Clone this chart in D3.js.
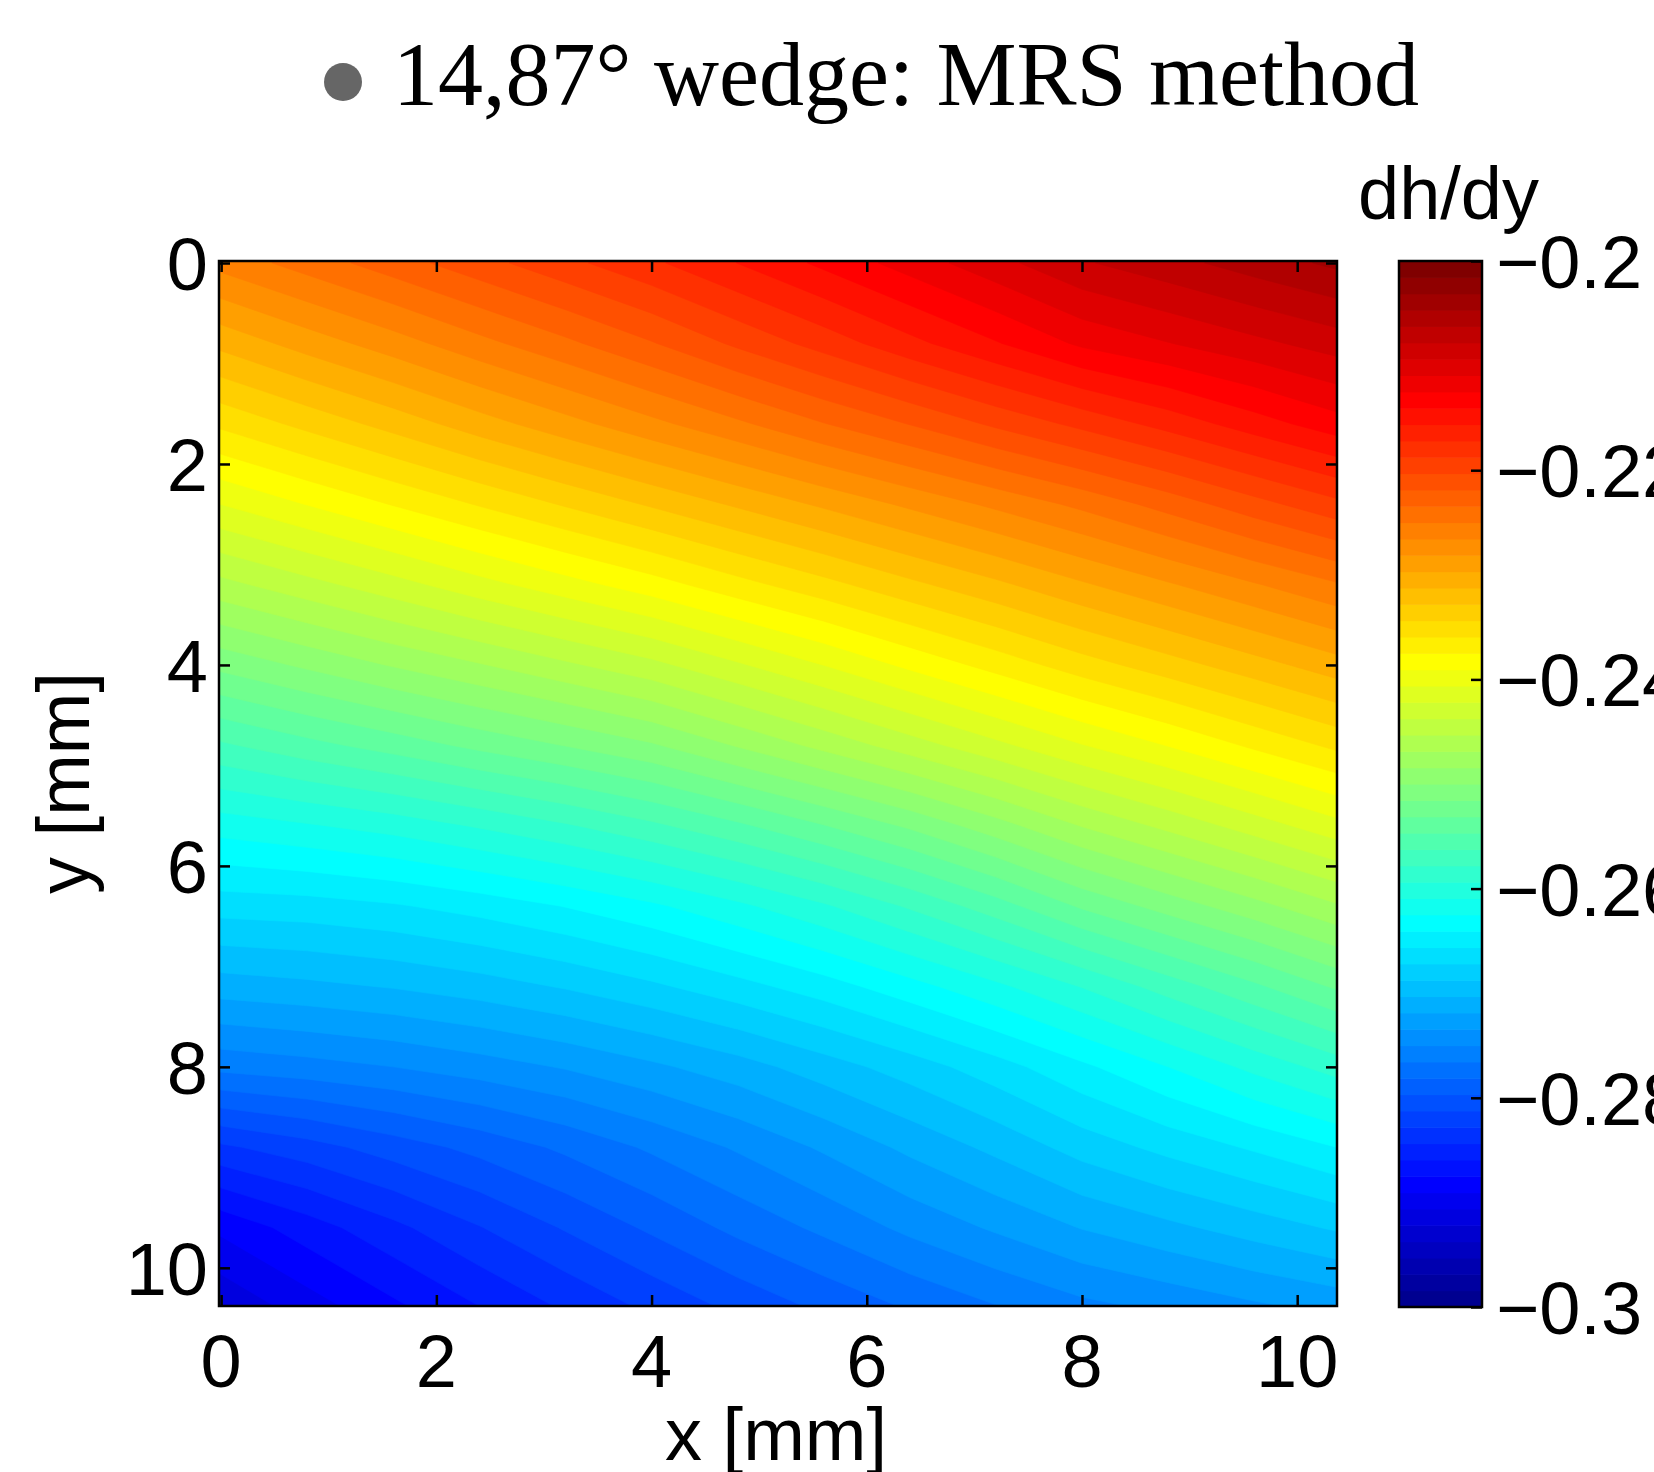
<!DOCTYPE html>
<html>
<head>
<meta charset="utf-8">
<script src="https://cdn.jsdelivr.net/npm/d3@7"></script>
<style>
  html, body { margin: 0; padding: 0; background: #fff; }
  svg { display: block; }
</style>
</head>
<body>
<svg id="chart" width="1654" height="1472"></svg>
<script>
// ---------------- DATA ----------------
const titleText = "14,87\u00b0 wedge: MRS method";
const colorbarLabel = "dh/dy";
const xLabel = "x [mm]";
const yLabel = "y [mm]";

// sample grid positions (mm)
const xNodes = [0, 0.8, 1.6, 2.4, 3.2, 4.0, 4.8, 5.6, 6.4, 7.2, 8.0, 8.8, 9.6, 10.4];
const yNodes = [0, 0.8, 1.6, 2.4, 3.2, 4.0, 4.8, 5.6, 6.4, 7.2, 8.0, 8.8, 9.6, 10.4];

// dh/dy values, one row per y node (top to bottom), one column per x node
const row_y00 = [-0.2260, -0.2243, -0.2226, -0.2209, -0.2192, -0.2175, -0.2156, -0.2137, -0.2118, -0.2099, -0.2080, -0.2068, -0.2055, -0.2043];
const row_y08 = [-0.2308, -0.2290, -0.2273, -0.2255, -0.2238, -0.2220, -0.2200, -0.2181, -0.2161, -0.2142, -0.2122, -0.2110, -0.2098, -0.2086];
const row_y16 = [-0.2356, -0.2339, -0.2322, -0.2304, -0.2287, -0.2270, -0.2253, -0.2235, -0.2218, -0.2200, -0.2183, -0.2166, -0.2148, -0.2131];
const row_y24 = [-0.2406, -0.2390, -0.2374, -0.2358, -0.2342, -0.2326, -0.2310, -0.2294, -0.2278, -0.2262, -0.2246, -0.2228, -0.2209, -0.2191];
const row_y32 = [-0.2458, -0.2443, -0.2428, -0.2412, -0.2397, -0.2382, -0.2365, -0.2349, -0.2332, -0.2316, -0.2299, -0.2283, -0.2267, -0.2251];
const row_y40 = [-0.2511, -0.2497, -0.2483, -0.2470, -0.2456, -0.2442, -0.2424, -0.2406, -0.2387, -0.2369, -0.2351, -0.2335, -0.2319, -0.2303];
const row_y48 = [-0.2565, -0.2552, -0.2540, -0.2527, -0.2515, -0.2502, -0.2483, -0.2464, -0.2445, -0.2426, -0.2407, -0.2390, -0.2372, -0.2355];
const row_y56 = [-0.2618, -0.2611, -0.2603, -0.2592, -0.2580, -0.2566, -0.2550, -0.2532, -0.2513, -0.2491, -0.2468, -0.2449, -0.2430, -0.2411];
const row_y64 = [-0.2665, -0.2663, -0.2658, -0.2650, -0.2640, -0.2628, -0.2613, -0.2596, -0.2576, -0.2554, -0.2529, -0.2509, -0.2490, -0.2470];
const row_y72 = [-0.2711, -0.2707, -0.2702, -0.2695, -0.2686, -0.2675, -0.2662, -0.2648, -0.2631, -0.2613, -0.2593, -0.2571, -0.2550, -0.2528];
const row_y80 = [-0.2761, -0.2756, -0.2750, -0.2742, -0.2733, -0.2722, -0.2710, -0.2695, -0.2680, -0.2663, -0.2644, -0.2625, -0.2605, -0.2586];
const row_y88 = [-0.2831, -0.2819, -0.2805, -0.2792, -0.2778, -0.2763, -0.2748, -0.2732, -0.2715, -0.2699, -0.2681, -0.2667, -0.2654, -0.2640];
const row_y96 = [-0.2887, -0.2867, -0.2848, -0.2829, -0.2811, -0.2794, -0.2777, -0.2762, -0.2746, -0.2732, -0.2718, -0.2707, -0.2696, -0.2685];
const row_y104 = [-0.2920, -0.2899, -0.2879, -0.2860, -0.2842, -0.2825, -0.2809, -0.2794, -0.2780, -0.2767, -0.2755, -0.2747, -0.2738, -0.2730];
const dhdyRows = [row_y00, row_y08, row_y16, row_y24, row_y32, row_y40, row_y48,
                  row_y56, row_y64, row_y72, row_y80, row_y88, row_y96, row_y104];

const xTicks = [0, 2, 4, 6, 8, 10];
const yTicks = [0, 2, 4, 6, 8, 10];
const cbTicks = [-0.3, -0.28, -0.26, -0.24, -0.22, -0.2];
const cbTickLabels = ["\u22120.3", "\u22120.28", "\u22120.26", "\u22120.24", "\u22120.22", "\u22120.2"];
const cbDomain = [-0.3, -0.2];
const nColors = 64;

// ---------------- LAYOUT ----------------
const svg = d3.select("#chart");
const plot = { left: 219, right: 1337, top: 261, bottom: 1306 };
const cb = { left: 1399, right: 1482, top: 261, bottom: 1307 };
const FONT = "'Liberation Sans', Arial, Helvetica, sans-serif";
const FS = 74;

const xScale = d3.scaleLinear().domain([-0.02, 10.37]).range([plot.left, plot.right]);
const yScale = d3.scaleLinear().domain([-0.02, 10.38]).range([plot.top, plot.bottom]);
const cbScale = d3.scaleLinear().domain(cbDomain).range([cb.bottom, cb.top]);

// jet colormap
const jet = d3.scaleLinear()
  .domain([0, 0.125, 0.375, 0.625, 0.875, 1])
  .range(["#000080", "#0000ff", "#00ffff", "#ffff00", "#ff0000", "#800000"])
  .interpolate(d3.interpolateRgb)
  .clamp(true);
const step = (cbDomain[1] - cbDomain[0]) / nColors;
const levels = d3.range(nColors).map(k => cbDomain[0] + k * step);
const levelColor = k => jet((k + 1) / nColors);

// ---------------- HEATMAP (filled contour bands) ----------------
const nx = xNodes.length, ny = yNodes.length;
const flat = [];
dhdyRows.forEach(r => r.forEach(v => flat.push(v)));
const dxN = xNodes[1] - xNodes[0], dyN = yNodes[1] - yNodes[0];
const proj = d3.geoTransform({
  point: function (gx, gy) {
    this.stream.point(xScale(xNodes[0] + (gx - 0.5) * dxN), yScale(yNodes[0] + (gy - 0.5) * dyN));
  }
});
const path = d3.geoPath(proj);
const contours = d3.contours().size([nx, ny]).thresholds(levels)(flat);

svg.append("defs").append("clipPath").attr("id", "plotclip")
  .append("rect")
  .attr("x", plot.left).attr("y", plot.top)
  .attr("width", plot.right - plot.left).attr("height", plot.bottom - plot.top);

const g = svg.append("g").attr("clip-path", "url(#plotclip)");
g.selectAll("path.band")
  .data(contours)
  .join("path")
  .attr("class", "band")
  .attr("d", path)
  .attr("fill", (d, i) => levelColor(i))
  .attr("stroke", (d, i) => levelColor(i))
  .attr("stroke-width", 0.6);

// ---------------- AXES (MATLAB style box, inward ticks) ----------------
const TL = 11, SW = 2.5;
const axes = svg.append("g");
const axB = d3.axisBottom(xScale).tickValues(xTicks).tickSize(-TL).tickFormat("");
const axT = d3.axisTop(xScale).tickValues(xTicks).tickSize(-TL).tickFormat("");
const axL = d3.axisLeft(yScale).tickValues(yTicks).tickSize(-TL).tickFormat("");
const axR = d3.axisRight(yScale).tickValues(yTicks).tickSize(-TL).tickFormat("");
axes.append("g").attr("transform", `translate(0,${plot.bottom})`).call(axB);
axes.append("g").attr("transform", `translate(0,${plot.top})`).call(axT);
axes.append("g").attr("transform", `translate(${plot.left},0)`).call(axL);
axes.append("g").attr("transform", `translate(${plot.right},0)`).call(axR);
axes.selectAll(".domain").remove();
axes.selectAll(".tick line").attr("stroke", "#000").attr("stroke-width", SW);
svg.append("rect")
  .attr("x", plot.left).attr("y", plot.top)
  .attr("width", plot.right - plot.left).attr("height", plot.bottom - plot.top)
  .attr("fill", "none").attr("stroke", "#000").attr("stroke-width", SW);

// tick labels
svg.append("g").selectAll("text").data(xTicks).join("text")
  .attr("x", d => xScale(d)).attr("y", 1387)
  .attr("text-anchor", "middle")
  .attr("font-family", FONT).attr("font-size", FS).attr("fill", "#000")
  .text(d => d3.format("d")(d));
svg.append("g").selectAll("text").data(yTicks).join("text")
  .attr("x", 208).attr("y", d => yScale(d) + 27)
  .attr("text-anchor", "end")
  .attr("font-family", FONT).attr("font-size", FS).attr("fill", "#000")
  .text(d => d3.format("d")(d));

// axis labels
svg.append("text")
  .attr("x", 776).attr("y", 1460)
  .attr("text-anchor", "middle")
  .attr("font-family", FONT).attr("font-size", FS).attr("fill", "#000")
  .text(xLabel);
svg.append("text")
  .attr("transform", "translate(89,783) rotate(-90)")
  .attr("text-anchor", "middle")
  .attr("font-family", FONT).attr("font-size", FS).attr("fill", "#000")
  .text(yLabel);

// ---------------- COLORBAR ----------------
const cbg = svg.append("g");
cbg.selectAll("rect.cb").data(levels).join("rect")
  .attr("class", "cb")
  .attr("x", cb.left).attr("width", cb.right - cb.left)
  .attr("y", d => cbScale(d + step))
  .attr("height", d => cbScale(d) - cbScale(d + step) + 0.6)
  .attr("fill", (d, i) => levelColor(i));
const cbAxis = d3.axisRight(cbScale).tickValues(cbTicks).tickSize(-TL).tickFormat("");
cbg.append("g").attr("transform", `translate(${cb.right},0)`).call(cbAxis)
  .call(s => s.select(".domain").remove())
  .call(s => s.selectAll(".tick line").attr("stroke", "#000").attr("stroke-width", SW));
cbg.append("rect")
  .attr("x", cb.left).attr("y", cb.top)
  .attr("width", cb.right - cb.left).attr("height", cb.bottom - cb.top)
  .attr("fill", "none").attr("stroke", "#000").attr("stroke-width", SW);
cbg.selectAll("text.cbl").data(cbTicks).join("text")
  .attr("class", "cbl")
  .attr("x", 1496).attr("y", d => cbScale(d) + 27)
  .attr("font-family", FONT).attr("font-size", FS).attr("fill", "#000")
  .text((d, i) => cbTickLabels[i]);
svg.append("text")
  .attr("x", 1358).attr("y", 219)
  .attr("font-family", FONT).attr("font-size", FS).attr("fill", "#000")
  .text(colorbarLabel);

// ---------------- TITLE ----------------
svg.append("circle").attr("cx", 343).attr("cy", 82).attr("r", 19).attr("fill", "#666666");
svg.append("text")
  .attr("x", 393).attr("y", 105)
  .attr("font-family", "'Liberation Serif', 'DejaVu Serif', serif")
  .attr("font-size", 92)
  .attr("textLength", 1026)
  .attr("lengthAdjust", "spacingAndGlyphs")
  .attr("fill", "#000")
  .text(titleText);
</script>
</body>
</html>
